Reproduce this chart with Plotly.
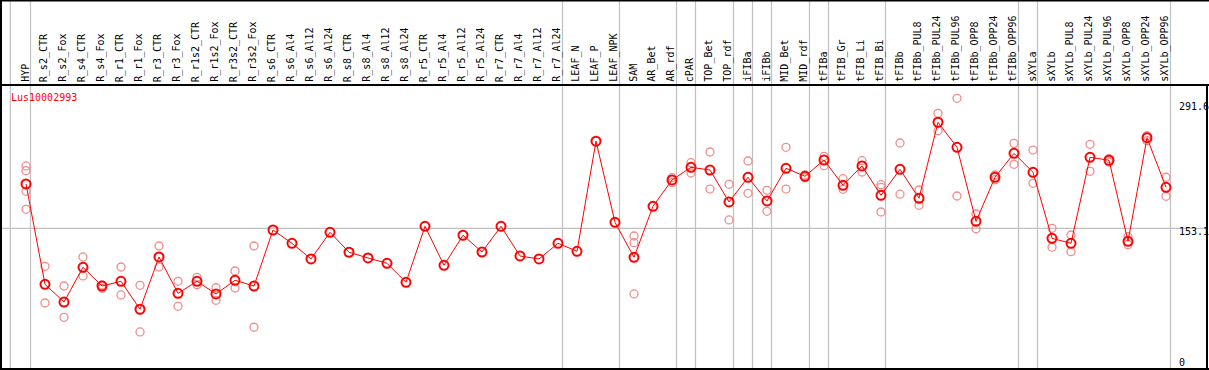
import plotly.graph_objects as go

categories = [
    "HYP", "R_s2_CTR", "R_s2_Fox", "R_s4_CTR", "R_s4_Fox", "R_r1_CTR", "R_r1_Fox",
    "R_r3_CTR", "R_r3_Fox", "R_r1s2_CTR", "R_r1s2_Fox", "R_r3s2_CTR", "R_r3s2_Fox",
    "R_s6_CTR", "R_s6_Al4", "R_s6_Al12", "R_s6_Al24", "R_s8_CTR", "R_s8_Al4",
    "R_s8_Al12", "R_s8_Al24", "R_r5_CTR", "R_r5_Al4", "R_r5_Al12", "R_r5_Al24",
    "R_r7_CTR", "R_r7_Al4", "R_r7_Al12", "R_r7_Al24", "LEAF_N", "LEAF_P", "LEAF_NPK",
    "SAM", "AR_Bet", "AR_rdf", "cPAR", "TOP_Bet", "TOP_rdf", "iFIBa", "iFIBb",
    "MID_Bet", "MID_rdf", "tFIBa", "tFIB_Gr", "tFIB_Li", "tFIB_Bi", "tFIBb",
    "tFIBb_PUL8", "tFIBb_PUL24", "tFIBb_PUL96", "tFIBb_OPP8", "tFIBb_OPP24",
    "tFIBb_OPP96", "sXYLa", "sXYLb", "sXYLb_PUL8", "sXYLb_PUL24", "sXYLb_PUL96",
    "sXYLb_OPP8", "sXYLb_OPP24", "sXYLb_OPP96",
]

mean_values = [
    202.1, 91.2, 71.6, 110.0, 89.3, 94.5, 63.6, 121.4, 81.2, 94.5, 80.5, 95.6, 89.3,
    151.2, 136.5, 119.2, 148.7, 126.6, 120.3, 114.4, 93.4, 155.3, 112.2, 145.4, 126.9,
    155.3, 122.5, 119.2, 136.5, 127.7, 249.4, 159.7,
    121.0, 177.4, 206.5, 220.5, 217.5, 182.2, 209.5, 183.3, 219.4, 210.6,
    228.6, 200.6, 222.0, 189.6, 218.3, 186.3, 270.3, 242.6, 160.8, 209.5, 236.0,
    215.0, 142.0, 136.5, 231.6, 228.3, 138.7, 253.2, 198.4,
]

replicates = [
    [222.0, 216.8, 194.0, 174.1], [111.1, 70.5], [89.3, 54.7], [121.4, 100.4],
    [90.4, 86.8], [110.3, 79.4], [90.1, 38.5], [133.5, 110.3], [94.5, 66.9],
    [98.9, 90.7], [87.4, 73.5], [105.9, 87.1], [133.5, 43.7],
    [], [], [], [], [], [], [], [], [], [], [], [], [], [], [], [], [], [], [],
    [144.6, 137.2, 80.5], [], [209.0, 203.5], [225.6, 214.2], [237.4, 196.5],
    [201.7, 162.3], [227.5, 191.8], [195.1, 171.9], [242.6, 196.5], [212.0, 209.0],
    [232.7, 222.3], [207.9, 196.2], [227.8, 215.3], [201.3, 198.4, 171.1],
    [247.4, 190.8], [195.4, 178.5], [280.2, 261.0], [296.8, 188.8], [168.9, 152.6],
    [212.0, 206.8], [247.0, 223.8], [239.6, 202.8], [153.1, 132.1], [145.7, 127.2],
    [245.9, 216.1], [226.4, 230.2], [143.8, 135.0], [255.4, 249.9], [209.5, 188.5],
]

# group separators (after these category indices)
group_ends = [0, 28, 31, 34, 35, 37, 38, 39, 41, 42, 45, 52, 53, 60]
y_tick_values = [291.6, 153.1, 0]
gene_id = "Lus10002993"

W, H = 1209, 370
X0_PX, DX_PX = 26.0, 19.0
Y0_PX, DY_PX = 366.8, 0.9047

x_range = [-X0_PX / DX_PX, (W - X0_PX) / DX_PX]
y_range = [(Y0_PX - H) / DY_PX, Y0_PX / DY_PX]

def py(px):
    return 1 - px / H

def px_x(px):
    return px / W

fig = go.Figure()

rx, ry = [], []
for i, reps in enumerate(replicates):
    for v in reps:
        rx.append(i)
        ry.append(v)

fig.add_trace(go.Scatter(
    x=rx, y=ry, mode="markers",
    marker=dict(symbol="circle-open", size=8, color="rgb(240,140,140)",
                line=dict(width=1.3, color="rgb(240,140,140)")),
    hoverinfo="skip", showlegend=False,
))

fig.add_trace(go.Scatter(
    x=list(range(len(categories))), y=mean_values, mode="lines+markers",
    line=dict(color="#ff0000", width=1),
    marker=dict(symbol="circle-open", size=9, color="#ff0000",
                line=dict(width=2, color="#ff0000")),
    text=categories, showlegend=False,
))

shapes = []
grey = "#c0c0c0"
shapes.append(dict(type="line", xref="paper", yref="paper", x0=px_x(10.3), x1=px_x(10.3),
                   y0=0, y1=1, line=dict(color=grey, width=1.2), layer="below"))
for i in group_ends:
    shapes.append(dict(type="line", xref="x", yref="paper", x0=i + 0.237, x1=i + 0.237,
                       y0=0, y1=1, line=dict(color=grey, width=1.2), layer="below"))
shapes.append(dict(type="line", xref="paper", yref="y", x0=0, x1=px_x(1207),
                   y0=y_tick_values[1], y1=y_tick_values[1],
                   line=dict(color=grey, width=1.2), layer="below"))
blk = dict(color="black", width=2)
shapes += [
    dict(type="line", xref="paper", yref="paper", x0=0, x1=1, y0=py(0.5), y1=py(0.5), line=blk),
    dict(type="line", xref="paper", yref="paper", x0=0, x1=1, y0=py(85), y1=py(85), line=blk),
    dict(type="line", xref="paper", yref="paper", x0=px_x(1), x1=px_x(1), y0=0, y1=1, line=blk),
    dict(type="line", xref="paper", yref="paper", x0=0, x1=1, y0=py(369), y1=py(369), line=blk),
    dict(type="line", xref="paper", yref="paper", x0=px_x(1207), x1=px_x(1207), y0=py(85), y1=0, line=blk),
]

annotations = []
mono = "DejaVu Sans Mono"
for i, c in enumerate(categories):
    annotations.append(dict(x=i - 0.07, y=py(84), xref="x", yref="paper", text=c,
                            textangle=-90, showarrow=False, xanchor="center", yanchor="bottom",
                            font=dict(family=mono, size=10, color="black")))
annotations.append(dict(x=px_x(9), y=py(97), xref="paper", yref="paper", text=gene_id,
                        showarrow=False, xanchor="left", yanchor="middle",
                        font=dict(family=mono, size=10, color="#ff0000")))
for v in y_tick_values[:2]:
    annotations.append(dict(x=px_x(1177), y=v, xref="paper", yref="y", text=str(v),
                            showarrow=False, xanchor="left", yanchor="top", yshift=4,
                            font=dict(family=mono, size=10, color="black")))
annotations.append(dict(x=px_x(1177), y=py(355), xref="paper", yref="paper", text="0",
                        showarrow=False, xanchor="left", yanchor="top",
                        font=dict(family=mono, size=10, color="black")))

fig.update_layout(
    width=W, height=H, margin=dict(l=0, r=0, t=0, b=0),
    paper_bgcolor="white", plot_bgcolor="white",
    xaxis=dict(range=x_range, visible=False, fixedrange=True),
    yaxis=dict(range=y_range, visible=False, fixedrange=True),
    shapes=shapes, annotations=annotations, showlegend=False,
)

fig.write_html(
    "out.html",
    config={"displayModeBar": False},
    post_script="document.body.style.margin='0';document.body.style.padding='0';"
                "document.body.style.overflow='hidden';",
)
